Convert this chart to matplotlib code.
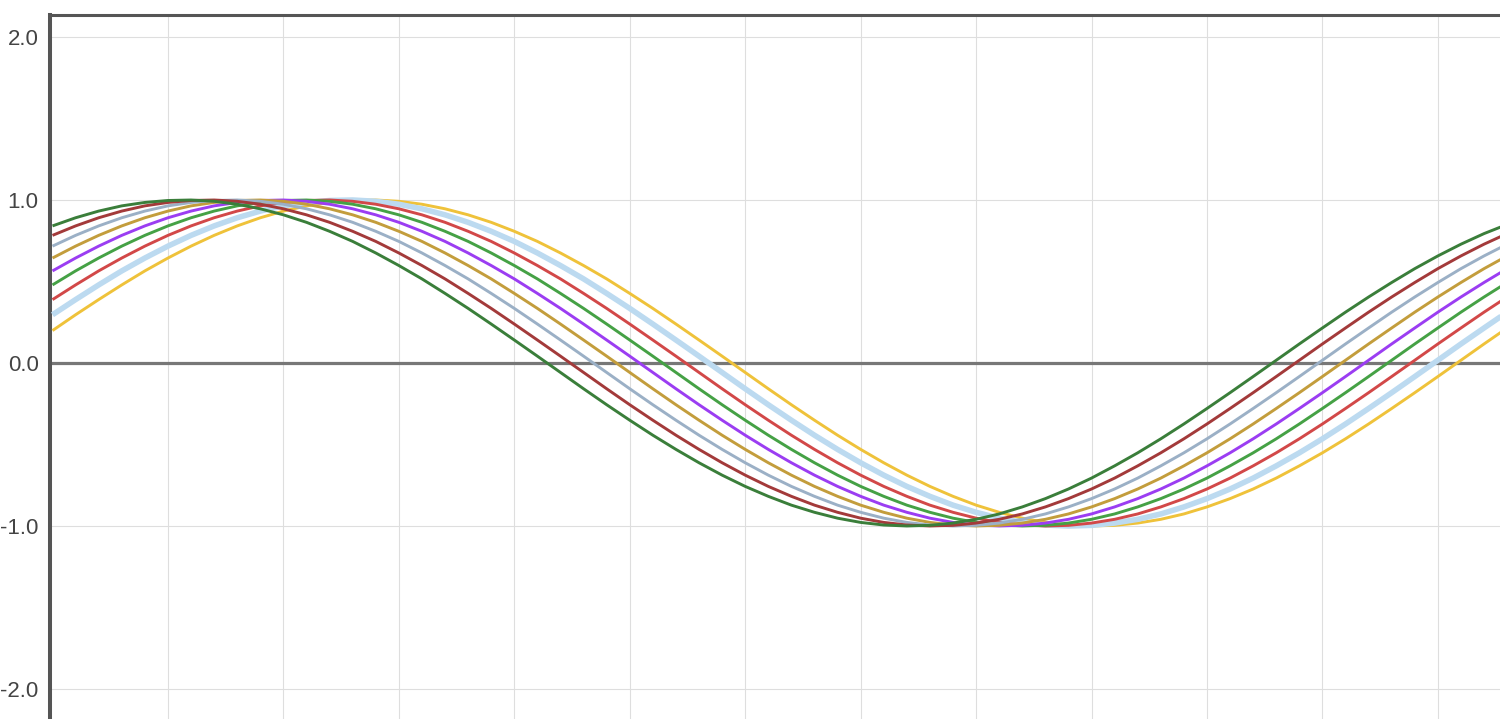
import matplotlib
matplotlib.use("Agg")
import matplotlib.pyplot as plt

x_vals = [0.0, 0.1, 0.2, 0.3, 0.4, 0.5, 0.6, 0.7, 0.8, 0.9,
          1.0, 1.1, 1.2, 1.3, 1.4, 1.5, 1.6, 1.7, 1.8, 1.9,
          2.0, 2.1, 2.2, 2.3, 2.4, 2.5, 2.6, 2.7, 2.8, 2.9,
          3.0, 3.1, 3.2, 3.3, 3.4, 3.5, 3.6, 3.7, 3.8, 3.9,
          4.0, 4.1, 4.2, 4.3, 4.4, 4.5, 4.6, 4.7, 4.8, 4.9,
          5.0, 5.1, 5.2, 5.3, 5.4, 5.5, 5.6, 5.7, 5.8, 5.9,
          6.0, 6.1, 6.2, 6.3]

dark_green = [0.841, 0.891, 0.932, 0.964, 0.985, 0.997, 1.000, 0.992, 0.974, 0.946,
              0.909, 0.863, 0.808, 0.746, 0.675, 0.598, 0.516, 0.427, 0.335, 0.239,
              0.141, 0.042, -0.058, -0.158, -0.256, -0.351, -0.443, -0.530, -0.612, -0.688,
              -0.757, -0.818, -0.872, -0.916, -0.952, -0.978, -0.994, -1.000, -0.996, -0.982,
              -0.959, -0.926, -0.883, -0.832, -0.773, -0.706, -0.631, -0.551, -0.465, -0.374,
              -0.279, -0.182, -0.083, 0.017, 0.117, 0.215, 0.312, 0.405, 0.494, 0.579,
              0.657, 0.729, 0.794, 0.850]
dark_red = [0.783,
            0.841, 0.891, 0.932, 0.964, 0.985, 0.997, 1.000, 0.992, 0.974, 0.946,
            0.909, 0.863, 0.808, 0.746, 0.675, 0.598, 0.516, 0.427, 0.335, 0.239,
            0.141, 0.042, -0.058, -0.158, -0.256, -0.351, -0.443, -0.530, -0.612, -0.688,
            -0.757, -0.818, -0.872, -0.916, -0.952, -0.978, -0.994, -1.000, -0.996, -0.982,
            -0.959, -0.926, -0.883, -0.832, -0.773, -0.706, -0.631, -0.551, -0.465, -0.374,
            -0.279, -0.182, -0.083, 0.017, 0.117, 0.215, 0.312, 0.405, 0.494, 0.579,
            0.657, 0.729, 0.794]
gray_blue = [0.717, 0.783,
             0.841, 0.891, 0.932, 0.964, 0.985, 0.997, 1.000, 0.992, 0.974, 0.946,
             0.909, 0.863, 0.808, 0.746, 0.675, 0.598, 0.516, 0.427, 0.335, 0.239,
             0.141, 0.042, -0.058, -0.158, -0.256, -0.351, -0.443, -0.530, -0.612, -0.688,
             -0.757, -0.818, -0.872, -0.916, -0.952, -0.978, -0.994, -1.000, -0.996, -0.982,
             -0.959, -0.926, -0.883, -0.832, -0.773, -0.706, -0.631, -0.551, -0.465, -0.374,
             -0.279, -0.182, -0.083, 0.017, 0.117, 0.215, 0.312, 0.405, 0.494, 0.579,
             0.657, 0.729]
olive = [0.644, 0.717, 0.783,
         0.841, 0.891, 0.932, 0.964, 0.985, 0.997, 1.000, 0.992, 0.974, 0.946,
         0.909, 0.863, 0.808, 0.746, 0.675, 0.598, 0.516, 0.427, 0.335, 0.239,
         0.141, 0.042, -0.058, -0.158, -0.256, -0.351, -0.443, -0.530, -0.612, -0.688,
         -0.757, -0.818, -0.872, -0.916, -0.952, -0.978, -0.994, -1.000, -0.996, -0.982,
         -0.959, -0.926, -0.883, -0.832, -0.773, -0.706, -0.631, -0.551, -0.465, -0.374,
         -0.279, -0.182, -0.083, 0.017, 0.117, 0.215, 0.312, 0.405, 0.494, 0.579,
         0.657]
purple = [0.565, 0.644, 0.717, 0.783,
          0.841, 0.891, 0.932, 0.964, 0.985, 0.997, 1.000, 0.992, 0.974, 0.946,
          0.909, 0.863, 0.808, 0.746, 0.675, 0.598, 0.516, 0.427, 0.335, 0.239,
          0.141, 0.042, -0.058, -0.158, -0.256, -0.351, -0.443, -0.530, -0.612, -0.688,
          -0.757, -0.818, -0.872, -0.916, -0.952, -0.978, -0.994, -1.000, -0.996, -0.982,
          -0.959, -0.926, -0.883, -0.832, -0.773, -0.706, -0.631, -0.551, -0.465, -0.374,
          -0.279, -0.182, -0.083, 0.017, 0.117, 0.215, 0.312, 0.405, 0.494, 0.579]
green = [0.479, 0.565, 0.644, 0.717, 0.783,
         0.841, 0.891, 0.932, 0.964, 0.985, 0.997, 1.000, 0.992, 0.974, 0.946,
         0.909, 0.863, 0.808, 0.746, 0.675, 0.598, 0.516, 0.427, 0.335, 0.239,
         0.141, 0.042, -0.058, -0.158, -0.256, -0.351, -0.443, -0.530, -0.612, -0.688,
         -0.757, -0.818, -0.872, -0.916, -0.952, -0.978, -0.994, -1.000, -0.996, -0.982,
         -0.959, -0.926, -0.883, -0.832, -0.773, -0.706, -0.631, -0.551, -0.465, -0.374,
         -0.279, -0.182, -0.083, 0.017, 0.117, 0.215, 0.312, 0.405, 0.494]
red = [0.389, 0.479, 0.565, 0.644, 0.717, 0.783,
       0.841, 0.891, 0.932, 0.964, 0.985, 0.997, 1.000, 0.992, 0.974, 0.946,
       0.909, 0.863, 0.808, 0.746, 0.675, 0.598, 0.516, 0.427, 0.335, 0.239,
       0.141, 0.042, -0.058, -0.158, -0.256, -0.351, -0.443, -0.530, -0.612, -0.688,
       -0.757, -0.818, -0.872, -0.916, -0.952, -0.978, -0.994, -1.000, -0.996, -0.982,
       -0.959, -0.926, -0.883, -0.832, -0.773, -0.706, -0.631, -0.551, -0.465, -0.374,
       -0.279, -0.182, -0.083, 0.017, 0.117, 0.215, 0.312, 0.405]
light_blue = [0.296, 0.389, 0.479, 0.565, 0.644, 0.717, 0.783,
              0.841, 0.891, 0.932, 0.964, 0.985, 0.997, 1.000, 0.992, 0.974, 0.946,
              0.909, 0.863, 0.808, 0.746, 0.675, 0.598, 0.516, 0.427, 0.335, 0.239,
              0.141, 0.042, -0.058, -0.158, -0.256, -0.351, -0.443, -0.530, -0.612, -0.688,
              -0.757, -0.818, -0.872, -0.916, -0.952, -0.978, -0.994, -1.000, -0.996, -0.982,
              -0.959, -0.926, -0.883, -0.832, -0.773, -0.706, -0.631, -0.551, -0.465, -0.374,
              -0.279, -0.182, -0.083, 0.017, 0.117, 0.215, 0.312]
yellow = [0.199, 0.296, 0.389, 0.479, 0.565, 0.644, 0.717, 0.783,
          0.841, 0.891, 0.932, 0.964, 0.985, 0.997, 1.000, 0.992, 0.974, 0.946,
          0.909, 0.863, 0.808, 0.746, 0.675, 0.598, 0.516, 0.427, 0.335, 0.239,
          0.141, 0.042, -0.058, -0.158, -0.256, -0.351, -0.443, -0.530, -0.612, -0.688,
          -0.757, -0.818, -0.872, -0.916, -0.952, -0.978, -0.994, -1.000, -0.996, -0.982,
          -0.959, -0.926, -0.883, -0.832, -0.773, -0.706, -0.631, -0.551, -0.465, -0.374,
          -0.279, -0.182, -0.083, 0.017, 0.117, 0.215]

y_ticks = [-2.0, -1.0, 0.0, 1.0, 2.0]
y_tick_labels = ["-2.0", "-1.0", "0.0", "1.0", "2.0"]

# drawn back to front
series = [
    (yellow, "#efc23a", 2.1),
    (light_blue, "#bcdaf0", 4.0),
    (red, "#d24848", 2.1),
    (green, "#45a145", 2.1),
    (purple, "#9b3df2", 2.1),
    (olive, "#c39d3c", 2.1),
    (gray_blue, "#9bb0c6", 2.1),
    (dark_red, "#a33a3a", 2.1),
    (dark_green, "#3a7e3a", 2.1),
]

W, H = 1500, 719
fig = plt.figure(figsize=(W / 100, H / 100), dpi=100)
left_px, top_px = 50.5, 15
ax = fig.add_axes([left_px / W, 0.0, 1.0 - left_px / W, 1.0 - top_px / H])

px_per_x = 230.9
zero_px = 363
px_per_y = 163.0
x0 = -(52.5 - left_px) / px_per_x
ax.set_xlim(x0, x0 + (W - left_px) / px_per_x)
ax.set_ylim(-(H - zero_px) / px_per_y, (zero_px - top_px) / px_per_y)

for ys, c, lw in series:
    ax.plot(x_vals, ys, color=c, lw=lw, solid_capstyle="butt",
            solid_joinstyle="round", zorder=3)

ax.set_xticks([0.5 * k for k in range(1, 13)])
ax.set_yticks(y_ticks)
ax.set_yticklabels(y_tick_labels, fontsize=16, color="#444444", family="Liberation Sans")
ax.tick_params(axis="y", length=0, pad=8.5)
ax.tick_params(axis="x", length=0, labelbottom=False)
ax.grid(True, color="#dedede", lw=0.8, zorder=0)
ax.axhline(0, color="#777777", lw=2.3, zorder=2)

for s in ["right", "bottom"]:
    ax.spines[s].set_visible(False)
ax.spines["top"].set_color("#555555")
ax.spines["top"].set_linewidth(2.2)
ax.spines["left"].set_color("#555555")
ax.spines["left"].set_linewidth(2.9)

fig.savefig("out.png", dpi=100)
